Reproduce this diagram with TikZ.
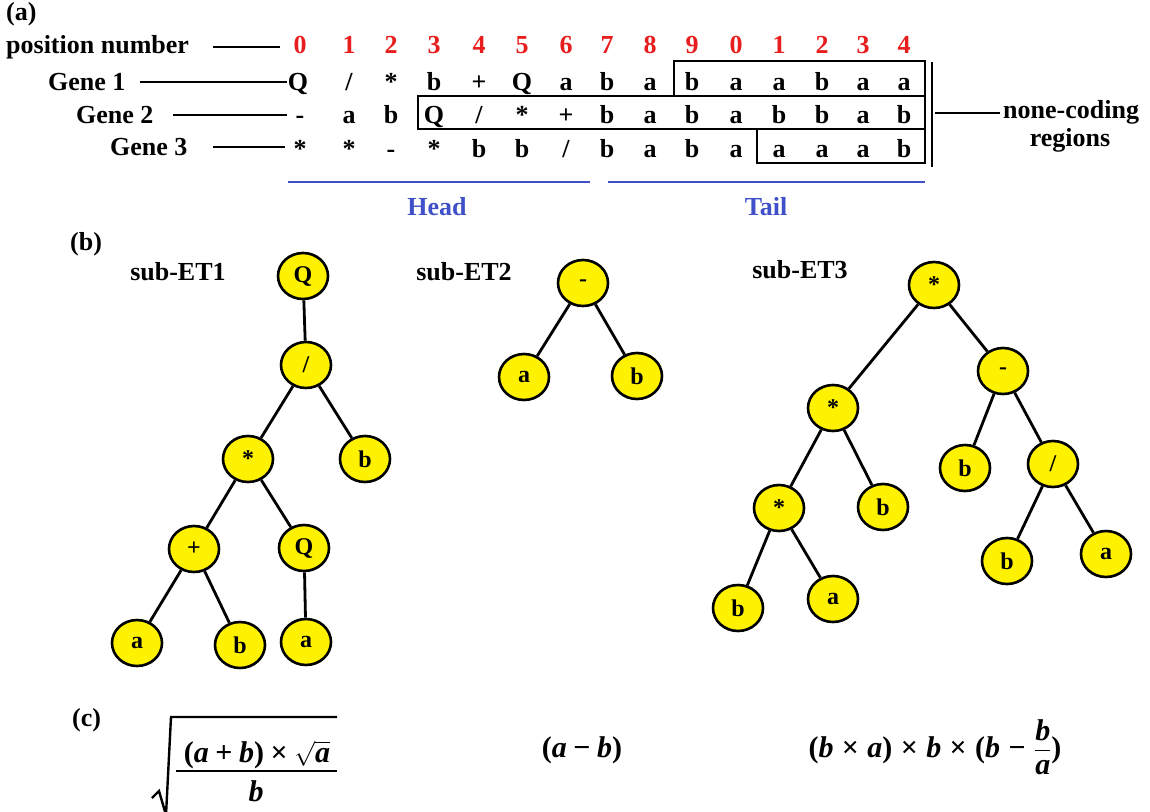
\documentclass[tikz,border=0pt]{standalone}
\usepackage{fontspec}
\setmainfont{Liberation Serif}
\usepackage{amsmath}
\usetikzlibrary{shapes.geometric}
\definecolor{hblue}{RGB}{64,80,200}
\definecolor{pred}{RGB}{232,30,30}
\newcommand\slsh{/}
\newcommand\fbi[1]{\textbf{\textit{#1}}}
\newcommand\ops{\hspace{0.28em}}
\newcommand\opsn{\hspace{0.22em}}
\tikzset{
  lbl/.style={font=\fontsize{26}{28}\selectfont\bfseries, inner sep=0pt, anchor=base},
  lblw/.style={lbl, anchor=base west},
  digit/.style={lbl, text=pred},
  tn/.style={ellipse, draw=black, line width=2.6pt, fill=yellow, minimum width=50pt, minimum height=46pt, inner sep=0pt, font=\fontsize{24}{26}\selectfont\bfseries},
  edge/.style={line width=2.8pt},
  boxline/.style={line width=1.8pt},
  leader/.style={line width=1.3pt},
  blueline/.style={draw=hblue, line width=1.5pt},
  fml/.style={font=\fontsize{30}{32}\selectfont\bfseries, inner sep=0pt, anchor=base},
  fline/.style={line width=2.4pt, line join=miter},
}
\begin{document}
\begin{tikzpicture}[x=1pt,y=-1pt]
\useasboundingbox (0,0) rectangle (1150,811);
% ---------- (a) ----------
\node[lblw] (la) at (6,20) {(a)};
\node[lblw] (posn) at (6,53) {position number};
\node[lblw] (gn1) at (48,90) {Gene 1};
\node[lblw] (gn2) at (76,123) {Gene 2};
\node[lblw] (gn3) at (110,155) {Gene 3};
\foreach \x/\c [count=\i from 0] in {300/0,349/1,391/2,434/3,479/4,522/5,566/6,607/7,650/8,692/9,736/0,779/1,822/2,863/3,904/4}
  \node[digit] (d\i) at (\x,53) {\c};
\foreach \x/\c [count=\i from 0] in {298/Q,349/\slsh,391/*,434/b,479/+,522/Q,566/a,607/b,650/a,692/b,736/a,779/a,822/b,863/a,904/a}
  \node[lbl] (ga\i) at (\x,90) {\c};
\foreach \x/\c [count=\i from 0] in {300/-,349/a,391/b,434/Q,479/\slsh,522/*,566/+,607/b,650/a,692/b,736/a,779/b,822/b,863/a,904/b}
  \node[lbl] (gb\i) at (\x,123) {\c};
\foreach \x/\c [count=\i from 0] in {300/*,349/*,391/-,434/*,479/b,522/b,566/\slsh,607/b,650/a,692/b,736/a,779/a,822/a,863/a,904/b}
  \node[lbl] (gc\i) at (\x,157) {\c};
% leader lines
\coordinate (p1) at (213,47); \coordinate (p2) at (280,47);
\coordinate (a1) at (140,82); \coordinate (a2) at (287,82);
\coordinate (b1) at (173,115); \coordinate (b2) at (287,115);
\coordinate (c1) at (213,147); \coordinate (c2) at (285,147);
\draw[leader] (p1) -- (p2);
\draw[leader] (a1) -- (a2);
\draw[leader] (b1) -- (b2);
\draw[leader] (c1) -- (c2);
% boxes
\draw[boxline] (674,61) rectangle (925,96);
\draw[boxline] (418,96) rectangle (925,129);
\draw[boxline] (757,129) rectangle (925,163);
\draw[boxline] (932,62) -- (932,167);
\coordinate (nc1) at (935,113); \coordinate (nc2) at (1000,113);
\draw[leader] (nc1) -- (nc2);
\node[lblw] (nc) at (1003,118) {none-coding};
\node[lbl] (rg) at (1070,146) {regions};
% head / tail
\coordinate (h1) at (288,182); \coordinate (h2) at (590,182);
\coordinate (t1) at (608,182); \coordinate (t2) at (925,182);
\draw[blueline] (h1) -- (h2);
\draw[blueline] (t1) -- (t2);
\node[lbl, text=hblue] (head) at (437,215) {Head};
\node[lbl, text=hblue] (tail) at (766,215) {Tail};
% ---------- (b) ----------
\node[lblw] (lb) at (70,250) {(b)};
\node[lbl] (s1) at (178,280) {sub-ET1};
\node[lbl] (s2) at (464,280) {sub-ET2};
\node[lbl] (s3) at (800,278) {sub-ET3};
% tree 1
\node[tn] (t1q) at (303,276) {Q};
\node[tn] (t1s) at (306,365) {/};
\node[tn] (t1m) at (248,459) {*};
\node[tn] (t1b) at (365,459) {b};
\node[tn] (t1p) at (194,549) {+};
\node[tn] (t1q2) at (304,548) {Q};
\node[tn] (t1a) at (137,643) {a};
\node[tn] (t1b2) at (240,645) {b};
\node[tn] (t1a2) at (306,642) {a};
\draw[edge] (t1q) -- (t1s);
\draw[edge] (t1s) -- (t1m);
\draw[edge] (t1s) -- (t1b);
\draw[edge] (t1m) -- (t1p);
\draw[edge] (t1m) -- (t1q2);
\draw[edge] (t1p) -- (t1a);
\draw[edge] (t1p) -- (t1b2);
\draw[edge] (t1q2) -- (t1a2);
% tree 2
\node[tn] (t2m) at (583,283) {-};
\node[tn] (t2a) at (524,377) {a};
\node[tn] (t2b) at (637,376) {b};
\draw[edge] (t2m) -- (t2a);
\draw[edge] (t2m) -- (t2b);
% tree 3
\node[tn] (t3r) at (934,285) {*};
\node[tn] (t3n) at (1003,371) {-};
\node[tn] (t3m) at (833,408) {*};
\node[tn] (t3b) at (965,468) {b};
\node[tn] (t3d) at (1053,464) {/};
\node[tn] (t3l) at (779,508) {*};
\node[tn] (t3b2) at (883,507) {b};
\node[tn] (t3b3) at (1007,561) {b};
\node[tn] (t3a) at (1106,554) {a};
\node[tn] (t3b4) at (738,608) {b};
\node[tn] (t3a2) at (833,599) {a};
\draw[edge] (t3r) -- (t3m);
\draw[edge] (t3r) -- (t3n);
\draw[edge] (t3n) -- (t3b);
\draw[edge] (t3n) -- (t3d);
\draw[edge] (t3m) -- (t3l);
\draw[edge] (t3m) -- (t3b2);
\draw[edge] (t3d) -- (t3b3);
\draw[edge] (t3d) -- (t3a);
\draw[edge] (t3l) -- (t3b4);
\draw[edge] (t3l) -- (t3a2);
% ---------- (c) ----------
\node[lblw] (lc) at (72,726) {(c)};
% formula 1: sqrt of fraction
\node[fml] (f1n) at (257,762) {(\fbi{a}\opsn+\opsn\fbi{b})\opsn×\opsn$\sqrt{\text{\fbi{a}}}$};
\node[fml] (f1d) at (256,801) {\fbi{b}};
\draw[fline] (176,771) -- (337,771);
\draw[fline] (152,798) -- (159,791) -- (166,815) -- (171,717) -- (337,717);
% formula 2
\node[fml] (f2) at (582,757) {(\fbi{a}\opsn−\opsn\fbi{b})};
% formula 3
\node[fml] (f3) at (935,757) {$\displaystyle\text{(\fbi{b}\ops×\ops\fbi{a})\ops×\ops\fbi{b}\ops×\ops(\fbi{b}\ops−\ops}\frac{\text{\fbi{b}}}{\text{\fbi{a}}}\text{)}$};
\end{tikzpicture}
\end{document}
